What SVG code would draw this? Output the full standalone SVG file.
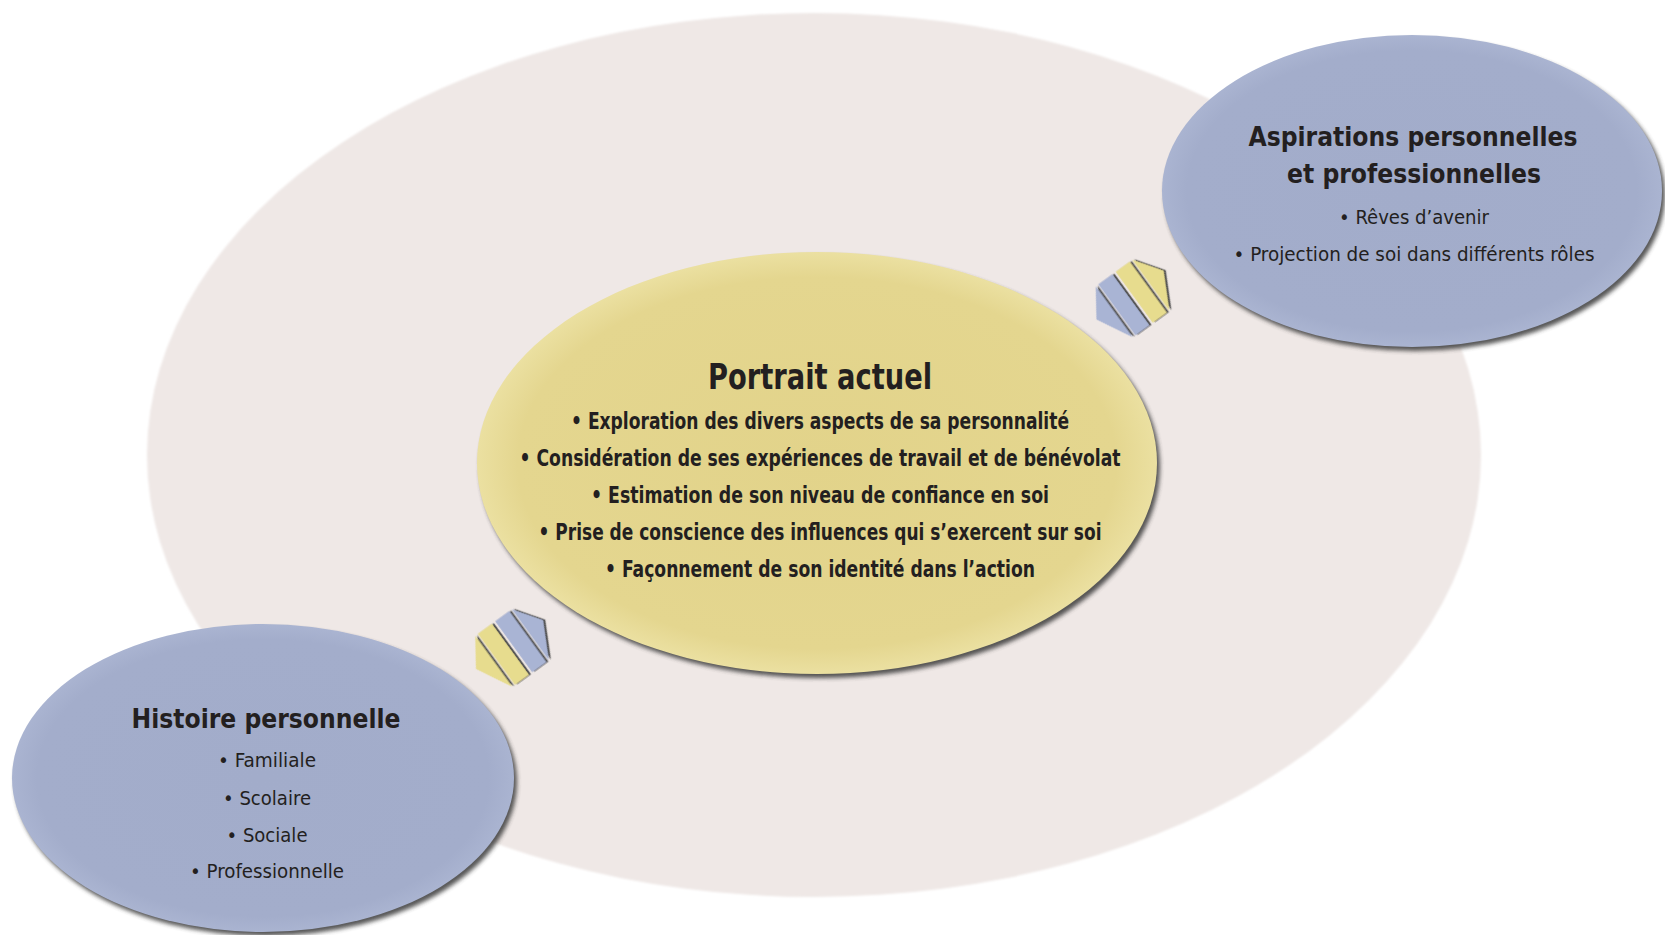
<svg xmlns="http://www.w3.org/2000/svg" width="1665" height="935" viewBox="0 0 1665 935">
  <defs>
    <style>
      .t { font-family: 'Liberation Sans Narrow', 'DejaVu Sans Condensed', 'Liberation Sans', Arial, sans-serif; fill: #231f20; text-anchor: middle; }
      .b { font-weight: bold; }
      .blue { fill: #a9b4d4; }
      .yel { fill: #e7dc8e; }
      .shadow { fill: #3a3a3a; opacity: 0.85; filter: url(#blur); }
    </style>
    <filter id="blur" x="-10%" y="-10%" width="120%" height="120%">
      <feGaussianBlur stdDeviation="2.2"/>
    </filter>
    <filter id="soft" x="-5%" y="-5%" width="110%" height="110%">
      <feGaussianBlur stdDeviation="1"/>
    </filter>
    <filter id="arrowShadow" x="-20%" y="-20%" width="140%" height="140%">
      <feDropShadow dx="2" dy="0.8" stdDeviation="0.5" flood-color="#4a4a4a" flood-opacity="0.95"/>
    </filter>
    <radialGradient id="gBlue" cx="0.5" cy="0.5" r="0.5">
      <stop offset="0" stop-color="#a2acca"/>
      <stop offset="0.9" stop-color="#a3adcb"/>
      <stop offset="1" stop-color="#aab4d1"/>
    </radialGradient>
    <radialGradient id="gYel" cx="0.5" cy="0.5" r="0.5">
      <stop offset="0" stop-color="#e2d38a"/>
      <stop offset="0.88" stop-color="#e4d68f"/>
      <stop offset="1" stop-color="#ebe0a1"/>
    </radialGradient>
  </defs>

  <rect x="0" y="0" width="1665" height="935" fill="#ffffff"/>

  <g id="bg">
    <ellipse cx="814" cy="455" rx="667" ry="442" fill="#efe8e6" filter="url(#soft)"/>
  </g>

  <g id="connectors">
    <g id="arrow-top-right" transform="translate(1132.5,298.5) rotate(-36) scale(1.05)" filter="url(#arrowShadow)">
      <polygon class="blue" points="-21.5,-30 -21.5,30 -39.5,-4"/>
      <polygon class="blue" points="-18.5,-30 -2,-30 -2,30 -18.5,30"/>
      <polygon class="yel" points="2,-30 18.5,-30 18.5,30 2,30"/>
      <polygon class="yel" points="21.5,-30 39.5,-4 21.5,30"/>
    </g>
    <g id="arrow-bottom-left" transform="translate(512,648) rotate(-36) scale(1.05)" filter="url(#arrowShadow)">
      <polygon class="yel" points="-21.5,-30 -21.5,30 -39.5,-4"/>
      <polygon class="yel" points="-18.5,-30 -2,-30 -2,30 -18.5,30"/>
      <polygon class="blue" points="2,-30 18.5,-30 18.5,30 2,30"/>
      <polygon class="blue" points="21.5,-30 39.5,-4 21.5,30"/>
    </g>
  </g>

  <g id="portrait">
    <ellipse class="shadow" cx="820" cy="467" rx="340" ry="211"/>
    <ellipse cx="817" cy="463" rx="340" ry="211" fill="url(#gYel)"/>
    <text class="t b" x="820" y="389" font-size="35" textLength="224" lengthAdjust="spacingAndGlyphs">Portrait actuel</text>
    <text class="t b" x="820" y="429" font-size="23" textLength="498" lengthAdjust="spacingAndGlyphs">• Exploration des divers aspects de sa personnalité</text>
    <text class="t b" x="820" y="466" font-size="23" textLength="601" lengthAdjust="spacingAndGlyphs">• Considération de ses expériences de travail et de bénévolat</text>
    <text class="t b" x="820" y="503" font-size="23" textLength="458" lengthAdjust="spacingAndGlyphs">• Estimation de son niveau de confiance en soi</text>
    <text class="t b" x="820" y="540" font-size="23" textLength="563" lengthAdjust="spacingAndGlyphs">• Prise de conscience des influences qui s’exercent sur soi</text>
    <text class="t b" x="820" y="577" font-size="23" textLength="430" lengthAdjust="spacingAndGlyphs">• Façonnement de son identité dans l’action</text>
  </g>

  <g id="aspirations">
    <ellipse class="shadow" cx="1415" cy="195" rx="250" ry="156"/>
    <ellipse cx="1412" cy="191" rx="250" ry="156" fill="url(#gBlue)"/>
    <text class="t b" x="1413" y="146" font-size="27" textLength="329" lengthAdjust="spacingAndGlyphs">Aspirations personnelles</text>
    <text class="t b" x="1414" y="183" font-size="27" textLength="254" lengthAdjust="spacingAndGlyphs">et professionnelles</text>
    <text class="t" x="1414" y="224" font-size="20" textLength="150" lengthAdjust="spacingAndGlyphs">• Rêves d’avenir</text>
    <text class="t" x="1414" y="261" font-size="20" textLength="361" lengthAdjust="spacingAndGlyphs">• Projection de soi dans différents rôles</text>
  </g>

  <g id="histoire">
    <ellipse class="shadow" cx="266" cy="782" rx="251" ry="154"/>
    <ellipse cx="263" cy="778" rx="251" ry="154" fill="url(#gBlue)"/>
    <text class="t b" x="266" y="728" font-size="27" textLength="269" lengthAdjust="spacingAndGlyphs">Histoire personnelle</text>
    <text class="t" x="267" y="767" font-size="20" textLength="98" lengthAdjust="spacingAndGlyphs">• Familiale</text>
    <text class="t" x="267" y="805" font-size="20" textLength="88" lengthAdjust="spacingAndGlyphs">• Scolaire</text>
    <text class="t" x="267" y="842" font-size="20" textLength="81" lengthAdjust="spacingAndGlyphs">• Sociale</text>
    <text class="t" x="267" y="878" font-size="20" textLength="154" lengthAdjust="spacingAndGlyphs">• Professionnelle</text>
  </g>
</svg>
